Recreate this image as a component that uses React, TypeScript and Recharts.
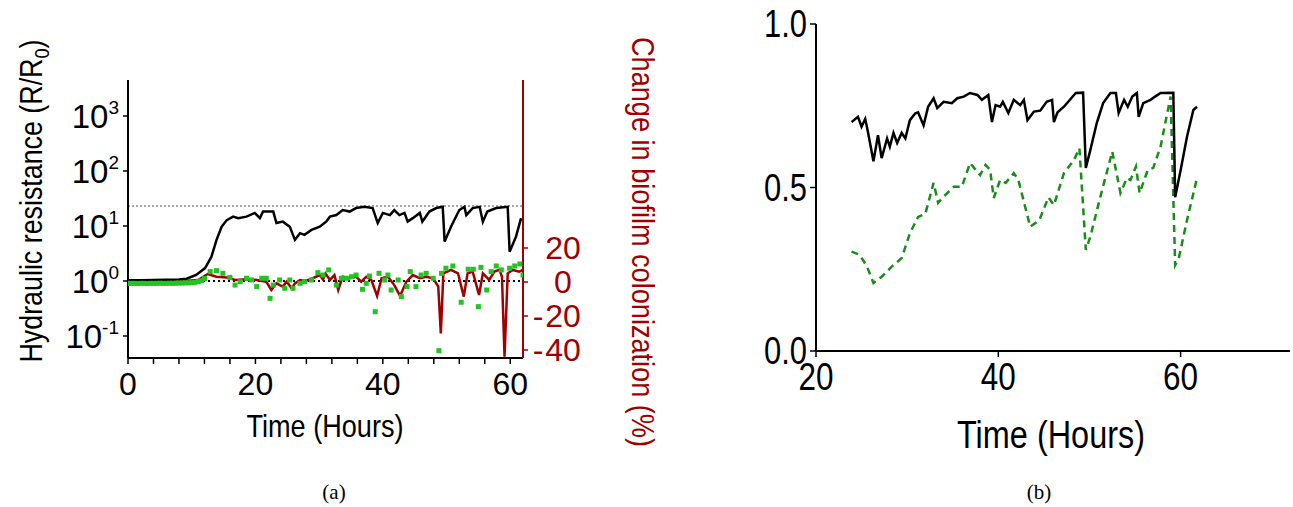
import React from 'react';
import { ComposedChart, Line, Scatter, XAxis, YAxis, ReferenceLine } from 'recharts';

const NARROW = '"Liberation Sans Narrow", "Liberation Sans", "DejaVu Sans", sans-serif';
const RED = '#a00000';
const GREEN_PT = '#22c322';
const GREEN_LINE = '#1a8c1a';

// panel (a): hydraulic resistance R/R0 (log axis)
const resistT = [0, 2, 4, 6, 8, 9.2, 10.7, 12.1, 13.1, 13.9, 14.7, 15.5, 16.5, 17.3, 18.6, 19.9, 20.7, 21.2, 22.8, 23.3, 24.3, 25.4, 26.2, 27.0, 27.7, 28.8, 30.1, 31.1, 31.7, 32.7, 33.7, 34.8, 35.8, 37.1, 38.4, 39.2, 40.0, 41.1, 41.8, 42.6, 43.4, 43.9, 44.7, 45.8, 46.2, 47.3, 48.4, 49.4, 49.7, 50.7, 52.0, 52.8, 53.1, 54.1, 55.2, 55.7, 56.4, 57.8, 59.6, 59.9, 60.9, 61.7];
const resistR = [1.03, 1.03, 1.04, 1.05, 1.07, 1.1, 1.29, 1.72, 2.77, 5.6, 9.7, 12.8, 14.8, 13.9, 14.8, 17.3, 13.9, 18.3, 18.3, 11.3, 12, 9.7, 5.6, 7.4, 6.9, 8.5, 9.7, 12, 14.8, 15.8, 19.5, 18.3, 21.2, 22.3, 21.2, 11.3, 17.3, 15.8, 19.5, 15.8, 17.3, 12, 13.9, 17.3, 12, 18.3, 21.2, 22.3, 5.2, 9.7, 19.5, 22.3, 15.8, 21.2, 22.3, 12, 18.3, 21.2, 22.3, 3.4, 6.4, 13.9];

// panel (a): change in biofilm colonization (%), smoothed line
const colonT = [0, 4, 8, 11, 12.5, 13.9, 15.5, 16.8, 18.6, 20.2, 21.7, 22.5, 23.3, 24.3, 24.9, 25.7, 26.2, 27, 28, 29, 30.1, 30.6, 31.0, 31.7, 32.4, 33.0, 33.7, 34.8, 35.8, 36.6, 37.4, 38.2, 39.1, 39.8, 40.8, 41.8, 42.7, 43.7, 44.7, 45.8, 46.8, 47.9, 48.7, 49.1, 49.5, 50.7, 51.8, 52.7, 53.3, 54.1, 55.1, 55.7, 56.7, 57.5, 58.3, 58.7, 59.1, 59.6, 60.4, 61.4, 62];
const colonV = [0, 0, 0.3, 1.2, 4.7, 3.1, 2.7, 1.2, 1.6, 1.2, 0.2, -4.7, -0.8, -2.7, 0.2, -3.7, -0.8, 1.2, 0.8, 2.2, 4.1, 1.5, 5.0, 1.2, 4.1, -4.7, 3.1, 2.2, 3.1, 0.2, 3.1, 1.2, -8.2, 2.2, 3.1, -1.8, -8.2, 0.2, 4.1, 2.2, 3.1, 2.2, -2.7, -30.2, 5.1, 7.1, 5.1, -8.6, 5.1, 6.1, -7.6, 5.1, 1.2, 6.1, 7.1, 3.1, -44, 5.1, 7.1, 6.1, 7.1];

// panel (a): raw colonization points
const rawT = [0, 0.5, 1, 1.5, 2, 2.5, 3, 3.5, 4, 4.5, 5, 5.5, 6, 6.5, 7, 7.5, 8, 8.5, 9, 9.5, 10, 10.5, 11, 11.5, 12, 12.9, 13.9, 14.9, 16, 16.8, 17.6, 18.6, 19.4, 20.2, 21, 21.7, 22.3, 22.8, 23.8, 24.6, 25.4, 25.9, 27, 27.7, 28.8, 29.8, 30.6, 31.5, 32.7, 33.5, 34.3, 35.1, 35.8, 36.8, 37.4, 37.9, 38.8, 39.4, 40.3, 40.8, 41.3, 42.4, 42.9, 43.8, 44.3, 45.2, 46.0, 46.8, 47.9, 48.8, 49.2, 49.9, 51.0, 52.3, 53.4, 54.2, 55.0, 55.4, 56.3, 57.0, 57.8, 58.6, 59.9, 60.7, 61.5, 62];
const rawV = [-0.8, -0.8, -0.8, -0.9, -0.8, -0.8, -0.9, -0.8, -0.8, -0.8, -0.7, -0.8, -0.8, -0.7, -0.8, -0.7, -0.6, -0.6, -0.5, -0.5, -0.4, -0.2, 0.2, 0.8, 2.0, 6.1, 6.7, 5.1, 2.7, -1.8, 0.2, 2.2, 1.2, -2.7, 2.2, 2.2, -9.6, -1.8, 1.2, -3.7, 1.2, -3.7, -0.8, 0.2, 1.2, 5.5, 4.1, 7.1, -1.8, 2.2, 2.2, 3.1, 4.1, -4.3, -0.8, 3.5, -17.5, 5.1, 1.2, 4.1, -4.7, 1.2, -8.6, -2.7, 6.1, -2.7, 4.1, 5.1, 2.2, -40.4, 5.1, 8.1, 9.4, -11.9, 7.5, 7.5, -14.5, 8.6, -4.7, 6.1, 9.4, 7.1, 8.1, 9.4, 10.6, 4.1];

const timeTicksA = [0, 4, 8, 12, 16, 20, 24, 28, 32, 36, 40, 44, 48, 52, 56, 60];
const logTicks = [0.1, 1, 10, 100, 1000];
const pctTicks = [-40, -20, 0, 20];
const saturation = 23;

// panel (b)
const bBlackT = [23.9, 24.6, 25.0, 25.4, 25.7, 26.3, 26.8, 27.2, 27.8, 28.1, 28.5, 28.9, 29.4, 29.8, 30.3, 30.9, 31.2, 31.8, 32.3, 32.9, 33.3, 34.0, 34.9, 35.5, 36.2, 36.9, 37.7, 38.2, 38.9, 39.3, 39.7, 40.2, 40.5, 41.1, 41.7, 42.4, 42.8, 43.2, 43.9, 44.6, 45.3, 45.9, 46.1, 46.5, 47.2, 48.0, 48.5, 49.3, 49.6, 50.1, 50.8, 51.5, 52.3, 52.9, 53.2, 53.8, 54.2, 54.7, 55.2, 55.4, 55.9, 56.7, 57.2, 57.8, 59.2, 59.4, 60.0, 60.7, 61.4, 61.8];
const bBlackV = [0.70, 0.716, 0.686, 0.71, 0.67, 0.58, 0.66, 0.59, 0.65, 0.625, 0.667, 0.636, 0.667, 0.65, 0.706, 0.727, 0.73, 0.69, 0.747, 0.773, 0.743, 0.762, 0.758, 0.773, 0.778, 0.789, 0.783, 0.768, 0.783, 0.70, 0.752, 0.747, 0.762, 0.728, 0.768, 0.752, 0.768, 0.706, 0.732, 0.735, 0.762, 0.768, 0.70, 0.73, 0.747, 0.773, 0.789, 0.79, 0.56, 0.615, 0.697, 0.758, 0.789, 0.789, 0.728, 0.768, 0.747, 0.778, 0.789, 0.716, 0.758, 0.768, 0.778, 0.789, 0.79, 0.47, 0.553, 0.655, 0.737, 0.747];
const bGreenT = [23.9, 24.8, 25.6, 26.3, 27.2, 28.3, 29.4, 30.3, 31.2, 32.0, 32.9, 33.4, 34.0, 35.1, 36.0, 36.9, 38.0, 38.6, 39.1, 39.5, 40.2, 40.8, 41.7, 42.2, 43.5, 44.5, 45.5, 46.1, 47.2, 48.3, 48.9, 49.6, 50.1, 51.2, 52.5, 53.4, 54.1, 54.5, 55.1, 55.5, 56.4, 57.0, 57.8, 58.9, 59.4, 59.8, 60.7, 61.8];
const bGreenV = [0.304, 0.294, 0.258, 0.208, 0.227, 0.258, 0.284, 0.36, 0.41, 0.42, 0.514, 0.453, 0.472, 0.502, 0.502, 0.575, 0.538, 0.569, 0.554, 0.468, 0.523, 0.514, 0.544, 0.523, 0.38, 0.40, 0.47, 0.446, 0.544, 0.584, 0.62, 0.309, 0.35, 0.472, 0.61, 0.483, 0.529, 0.523, 0.564, 0.483, 0.554, 0.56, 0.625, 0.778, 0.263, 0.284, 0.40, 0.529];
const bTimeTicks = [20, 40, 60];
const bValueTicks = [0, 0.5, 1];

const resistData = resistT.map((t, i) => ({ t, r: resistR[i] }));
const colonData = colonT.map((t, i) => ({ t, c: colonV[i] }));
const rawData = rawT.map((t, i) => ({ t, c: rawV[i] }));
const bBlack = bBlackT.map((t, i) => ({ t, v: bBlackV[i] }));
const bGreen = bGreenT.map((t, i) => ({ t, v: bGreenV[i] }));

// narrow look: condensed face if the system has one
const txt = { fontFamily: NARROW, fontStretch: 'condensed' as const };

const PowTick = (props: any) => {
  const { x, y, payload } = props;
  const exp = Math.round(Math.log10(payload.value));
  return (
    <text x={x - 2} y={y + 12} textAnchor="end" {...txt} fontSize={33} fill="#000">
      10<tspan dy={-14} fontSize={19}>{exp}</tspan>
    </text>
  );
};

const PctTick = (props: any) => {
  const { x, y, payload } = props;
  const v = payload.value;
  return (
    <g fill={RED} {...txt} fontSize={32}>
      {v < 0 && <text x={x + 8} y={y + 11} textAnchor="middle">-</text>}
      <text x={x + 33} y={y + 11} textAnchor="middle">{Math.abs(v)}</text>
    </g>
  );
};

const TimeTickA = (props: any) => {
  const { x, y, payload } = props;
  if (payload.value % 20 !== 0) return <g />;
  return (
    <text x={x} y={y + 29} textAnchor="middle" {...txt} fontSize={32} fill="#000">
      {payload.value}
    </text>
  );
};

const TimeTickB = (props: any) => {
  const { x, y, payload } = props;
  return (
    <text x={x} y={y + 31} textAnchor="middle" {...txt} fontSize={38} fill="#000" textLength={35} lengthAdjust="spacingAndGlyphs">
      {payload.value}
    </text>
  );
};

const ValueTickB = (props: any) => {
  const { x, y, payload } = props;
  return (
    <text x={x - 1} y={y + 13} textAnchor="end" {...txt} fontSize={38} fill="#000" textLength={43} lengthAdjust="spacingAndGlyphs">
      {payload.value.toFixed(1)}
    </text>
  );
};

const Square = (props: any) => {
  const { cx, cy } = props;
  return <rect x={cx - 2.5} y={cy - 2.5} width={5} height={5} fill={GREEN_PT} />;
};

const App: React.FC = () => {
  return (
    <div style={{ position: 'absolute', left: 0, top: 0, width: 1293, height: 507, background: '#fff' }}>
      <div style={{ position: 'absolute', left: 0, top: 0 }}>
        <ComposedChart width={700} height={507} margin={{ top: 80, left: 0, right: 117, bottom: 109 }}>
          <XAxis
            type="number"
            dataKey="t"
            domain={[0, 62]}
            ticks={timeTicksA}
            tick={<TimeTickA />}
            tickSize={6}
            height={40}
            axisLine={{ stroke: '#000', strokeWidth: 2 }}
            tickLine={{ stroke: '#000', strokeWidth: 1.5 }}
            allowDataOverflow
          />
          <YAxis
            yAxisId="left"
            scale="log"
            domain={[0.0398, 4514]}
            ticks={logTicks}
            tick={<PowTick />}
            tickSize={5}
            width={128}
            allowDataOverflow
            axisLine={{ stroke: '#000', strokeWidth: 2 }}
            tickLine={{ stroke: '#000', strokeWidth: 1.5 }}
          />
          <YAxis
            yAxisId="pct"
            orientation="right"
            domain={[-44.7, 118.8]}
            ticks={pctTicks}
            tick={<PctTick />}
            tickSize={5}
            width={60}
            allowDataOverflow
            axisLine={{ stroke: RED, strokeWidth: 2 }}
            tickLine={{ stroke: RED, strokeWidth: 1.5 }}
          />
          <ReferenceLine yAxisId="left" y={saturation} stroke="#8a8a8a" strokeWidth={1.5} strokeDasharray="2 2" />
          <ReferenceLine yAxisId="left" y={1} stroke="#000" strokeWidth={2} strokeDasharray="2 3" />
          <Scatter yAxisId="pct" data={rawData} dataKey="c" shape={<Square />} isAnimationActive={false} />
          <Line yAxisId="pct" data={colonData} dataKey="c" type="linear" stroke={RED} strokeWidth={2.5} dot={false} isAnimationActive={false} />
          <Line yAxisId="left" data={resistData} dataKey="r" type="linear" stroke="#000" strokeWidth={2.5} dot={false} isAnimationActive={false} />
        </ComposedChart>
      </div>
      <div style={{ position: 'absolute', left: 740, top: 0 }}>
        <ComposedChart width={553} height={507} margin={{ top: 24, left: 0, right: 3, bottom: 116 }}>
          <XAxis
            type="number"
            dataKey="t"
            domain={[20, 72]}
            ticks={bTimeTicks}
            tick={<TimeTickB />}
            tickSize={6}
            height={40}
            axisLine={{ stroke: '#000', strokeWidth: 2 }}
            tickLine={{ stroke: '#000', strokeWidth: 1.5 }}
          />
          <YAxis
            type="number"
            domain={[0, 1]}
            ticks={bValueTicks}
            tick={<ValueTickB />}
            tickSize={6}
            width={76}
            axisLine={{ stroke: '#000', strokeWidth: 2 }}
            tickLine={{ stroke: '#000', strokeWidth: 1.5 }}
          />
          <Line data={bGreen} dataKey="v" type="linear" stroke={GREEN_LINE} strokeWidth={2.5} strokeDasharray="7 5" dot={false} isAnimationActive={false} />
          <Line data={bBlack} dataKey="v" type="linear" stroke="#000" strokeWidth={2.5} dot={false} isAnimationActive={false} />
        </ComposedChart>
      </div>
      <svg width={1293} height={507} style={{ position: 'absolute', left: 0, top: 0, pointerEvents: 'none' }}>
        <text transform="translate(42, 201) rotate(-90)" textAnchor="middle" {...txt} fontSize={31} fill="#000" textLength={323} lengthAdjust="spacingAndGlyphs">
          Hydraulic resistance (R/R<tspan dy={7} fontSize={21}>0</tspan><tspan dy={-7}>)</tspan>
        </text>
        <text transform="translate(632, 242) rotate(90)" textAnchor="middle" {...txt} fontSize={31} fill={RED} textLength={410} lengthAdjust="spacingAndGlyphs">
          Change in biofilm colonization (%)
        </text>
        <text x={325} y={437} textAnchor="middle" {...txt} fontSize={32} fill="#000" textLength={157} lengthAdjust="spacingAndGlyphs">Time (Hours)</text>
        <text x={1051} y={448} textAnchor="middle" {...txt} fontSize={38} fill="#000" textLength={188} lengthAdjust="spacingAndGlyphs">Time (Hours)</text>
        <text x={334} y={499} textAnchor="middle" fontFamily='"Liberation Serif", "DejaVu Serif", serif' fontSize={21} fill="#000">(a)</text>
        <text x={1039} y={499} textAnchor="middle" fontFamily='"Liberation Serif", "DejaVu Serif", serif' fontSize={21} fill="#000">(b)</text>
      </svg>
    </div>
  );
};

export default App;
